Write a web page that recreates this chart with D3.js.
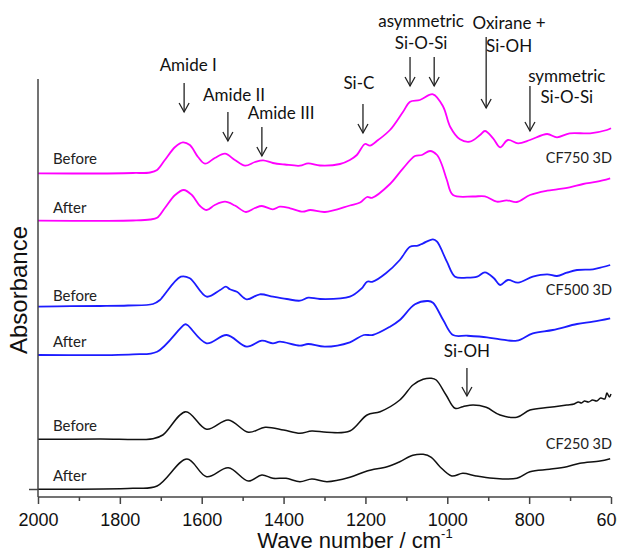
<!DOCTYPE html>
<html lang="en">
<head>
<meta charset="utf-8">
<title>FTIR spectra</title>
<script src="https://cdn.jsdelivr.net/npm/d3@7"></script>
<style>
  body { margin: 0; background: #fff; }
  svg { display: block; }
</style>
</head>
<body>
<div id="vis"></div>
<script>
// wavenumber (cm-1) / absorbance (offset, arb. units) pairs
const cf750Before = [[2000,3.237],[1848,3.235],[1768,3.24],[1726,3.245],[1709,3.27],[1690,3.37],[1665,3.50],[1646,3.547],[1629,3.52],[1609,3.40],[1592,3.333],[1568,3.39],[1543,3.433],[1519,3.37],[1494,3.313],[1470,3.35],[1450,3.367],[1426,3.34],[1397,3.325],[1360,3.313],[1340,3.337],[1311,3.315],[1262,3.33],[1238,3.37],[1221,3.42],[1201,3.53],[1189,3.513],[1169,3.57],[1140,3.67],[1108,3.853],[1091,3.953],[1067,3.97],[1035,4.027],[1010,3.903],[993,3.703],[969,3.577],[945,3.553],[920,3.62],[908,3.66],[888,3.587],[871,3.497],[852,3.57],[827,3.537],[798,3.57],[756,3.63],[732,3.597],[701,3.637],[651,3.637],[610,3.67],[600,3.687]];
const cf750After = [[2000,2.763],[1848,2.762],[1768,2.765],[1726,2.775],[1709,2.793],[1690,2.89],[1665,3.02],[1644,3.07],[1624,3.02],[1604,2.91],[1588,2.87],[1568,2.92],[1543,2.953],[1519,2.915],[1492,2.85],[1470,2.89],[1453,2.91],[1426,2.877],[1409,2.903],[1384,2.887],[1353,2.853],[1335,2.87],[1299,2.85],[1238,2.915],[1213,2.945],[1196,3.0],[1184,2.992],[1140,3.13],[1108,3.287],[1079,3.41],[1062,3.42],[1042,3.46],[1025,3.42],[1013,3.32],[1001,3.17],[986,3.02],[937,3.005],[908,3.007],[879,2.953],[855,2.967],[830,2.95],[798,3.02],[756,3.063],[732,3.077],[701,3.097],[668,3.13],[634,3.153],[602,3.187]];
const cf500Before = [[2000,1.903],[1920,1.908],[1848,1.91],[1780,1.915],[1719,1.93],[1702,1.97],[1695,2.003],[1651,2.203],[1629,2.187],[1588,2.003],[1555,2.07],[1541,2.103],[1531,2.077],[1514,2.053],[1490,1.977],[1458,2.027],[1426,2.003],[1392,1.98],[1360,1.963],[1340,1.993],[1311,1.98],[1238,2.003],[1209,2.087],[1196,2.153],[1182,2.153],[1150,2.237],[1116,2.37],[1091,2.503],[1072,2.513],[1059,2.537],[1035,2.577],[1025,2.553],[1001,2.353],[981,2.203],[952,2.193],[927,2.203],[908,2.247],[886,2.187],[871,2.12],[852,2.17],[827,2.143],[791,2.203],[756,2.227],[732,2.21],[708,2.243],[683,2.27],[644,2.277],[620,2.30],[602,2.32]];
const cf500After = [[2000,1.42],[1768,1.427],[1709,1.453],[1641,1.727],[1635,1.72],[1588,1.537],[1539,1.62],[1490,1.503],[1453,1.563],[1426,1.537],[1409,1.553],[1360,1.513],[1340,1.53],[1299,1.503],[1238,1.547],[1204,1.62],[1182,1.62],[1140,1.703],[1116,1.77],[1079,1.927],[1047,1.96],[1035,1.943],[1010,1.77],[986,1.62],[952,1.613],[903,1.597],[871,1.577],[830,1.563],[791,1.637],[742,1.67],[683,1.73],[644,1.753],[602,1.787]];
const cf250Before = [[2000,0.577],[1850,0.58],[1719,0.583],[1695,0.62],[1639,0.853],[1588,0.677],[1535,0.77],[1486,0.647],[1445,0.697],[1400,0.67],[1360,0.637],[1331,0.66],[1294,0.647],[1238,0.66],[1196,0.82],[1164,0.853],[1116,0.97],[1084,1.12],[1059,1.177],[1039,1.187],[1027,1.17],[1003,1.02],[981,0.887],[962,0.903],[937,0.92],[905,0.897],[871,0.82],[830,0.797],[798,0.87],[750,0.897],[708,0.92],[690,0.93],[680,0.95],[672,0.94],[665,0.96],[655,0.95],[645,0.97],[635,0.96],[625,0.99],[615,0.98],[610,1.04],[604,1.0],[600,1.03]];
const cf250After = [[2000,0.077],[1768,0.087],[1709,0.11],[1636,0.38],[1588,0.203],[1535,0.293],[1486,0.16],[1453,0.22],[1426,0.187],[1394,0.187],[1360,0.153],[1331,0.18],[1294,0.153],[1238,0.197],[1196,0.26],[1147,0.303],[1116,0.353],[1084,0.417],[1059,0.427],[1039,0.397],[1018,0.303],[989,0.21],[962,0.237],[930,0.21],[888,0.187],[830,0.187],[798,0.253],[750,0.277],[708,0.303],[676,0.337],[627,0.36],[602,0.383]];

const spectra = [cf750Before, cf750After, cf500Before, cf500After, cf250Before, cf250After];
const spectraColours = ['#ff00ff', '#ff00ff', '#1c1cff', '#1c1cff', '#111', '#111'];
const stateLabels = ['Before', 'After', 'Before', 'After', 'Before', 'After'];
const stateLabelY = [3.33, 2.84, 1.963, 1.50, 0.66, 0.16];
const sampleLabels = ['CF750 3D', 'CF500 3D', 'CF250 3D'];
const sampleLabelY = [3.34, 2.02, 0.48];

const xTicks = [2000, 1800, 1600, 1400, 1200, 1000, 800, 600];
const xMinorTicks = [1900, 1700, 1500, 1300, 1100, 900, 700];

// band annotations: text lines, text position, arrow (wavenumber, from, to)
const bandText = [
  { lines: ['Amide I'], wn: 1633, y: [4.26] },
  { lines: ['Amide II'], wn: 1521, y: [3.96] },
  { lines: ['Amide III'], wn: 1406, y: [3.78] },
  { lines: ['Si-C'], wn: 1216, y: [4.08] },
  { lines: ['asymmetric', 'Si-O-Si'], wn: 1064, y: [4.70, 4.48] },
  { lines: ['Oxirane +', 'Si-OH'], wn: 849, y: [4.68, 4.45] },
  { lines: ['symmetric', 'Si-O-Si'], wn: 708, y: [4.15, 3.94] },
  { lines: ['Si-OH'], wn: 952, y: [1.40] }
];
const bandArrows = [
  [1643, 4.14, 3.85], [1536, 3.85, 3.56], [1453, 3.70, 3.41], [1206, 3.93, 3.64],
  [1091, 4.40, 4.11], [1032, 4.40, 4.11], [905, 4.60, 3.89], [798, 4.11, 3.66],
  [952, 1.29, 1.01]
];

const width = 617, height = 552;
const x = d3.scaleLinear().domain([2000, 600]).range([38, 611]);
const y = d3.scaleLinear().domain([0, 4.18]).range([497, 79]);

const svg = d3.select('#vis').append('svg')
  .attr('width', width).attr('height', height)
  .style('font-family', '"Liberation Sans", Arial, sans-serif');

const line = d3.line()
  .x(d => x(d[0])).y(d => y(d[1]))
  .curve(d3.curveCatmullRom.alpha(0.5));

svg.selectAll('.spectrum')
  .data(spectra)
  .join('path')
  .attr('class', 'spectrum')
  .attr('d', line)
  .attr('fill', 'none')
  .attr('stroke', (d, i) => spectraColours[i])
  .attr('stroke-width', (d, i) => i < 4 ? 1.8 : 1.5)
  .attr('stroke-linejoin', 'round');

// axes
const xAxis = svg.append('g').attr('transform', `translate(0,${y(0)})`)
  .call(d3.axisBottom(x).tickValues(xTicks).tickSize(7).tickFormat(d3.format('d')));
svg.append('g').attr('transform', `translate(0,${y(0)})`)
  .call(d3.axisBottom(x).tickValues(xMinorTicks).tickSize(4).tickFormat(''))
  .call(g => g.select('.domain').remove());
xAxis.select('.domain').attr('d', `M${x(2000)},0H${x(600)}`);
xAxis.selectAll('text').attr('dy', 0).attr('y', 29).style('font-size', '18px').attr('fill', '#111');

const yAxis = svg.append('g').attr('transform', `translate(${x(2000)},0)`)
  .call(d3.axisLeft(y).tickValues([0.08]).tickSize(9).tickFormat(''));
yAxis.select('.domain').attr('d', `M0,${y(0)}V${y(4.18)}`);

svg.selectAll('.domain, .tick line').attr('stroke', '#444').attr('stroke-width', 1.5);

svg.append('text')
  .attr('x', 355).attr('y', 548)
  .attr('text-anchor', 'middle')
  .style('font-size', '22px').attr('fill', '#111')
  .html('Wave number / cm<tspan dy="-10" font-size="13">-1</tspan>');

svg.append('text')
  .attr('transform', `translate(27,${290}) rotate(-90)`)
  .attr('text-anchor', 'middle')
  .style('font-size', '24px').attr('fill', '#111')
  .text('Absorbance');

// spectrum labels
const labelFont = 'Lato, "Open Sans", sans-serif';
svg.selectAll('.state')
  .data(stateLabels)
  .join('text')
  .attr('class', 'state')
  .attr('x', 53).attr('y', (d, i) => y(stateLabelY[i]))
  .style('font-family', labelFont).style('font-size', '15px').attr('fill', '#222')
  .text(d => d);

svg.selectAll('.sample')
  .data(sampleLabels)
  .join('text')
  .attr('class', 'sample')
  .attr('x', 612).attr('y', (d, i) => y(sampleLabelY[i]))
  .attr('text-anchor', 'end')
  .style('font-family', labelFont).style('font-size', '14.5px').attr('fill', '#222')
  .text(d => d);

// band annotations
const bands = svg.selectAll('.band')
  .data(bandText)
  .join('text')
  .attr('class', 'band')
  .attr('text-anchor', 'middle')
  .style('font-family', labelFont).style('font-size', '17px').attr('fill', '#111');
bands.selectAll('tspan')
  .data(d => d.lines.map((t, i) => ({ t, wn: d.wn, y: d.y[i] })))
  .join('tspan')
  .attr('x', d => x(d.wn)).attr('y', d => y(d.y))
  .text(d => d.t);

const arrows = svg.selectAll('.arrow')
  .data(bandArrows)
  .join('g')
  .attr('class', 'arrow')
  .attr('stroke', '#222').attr('stroke-width', 1.3).attr('fill', 'none');
arrows.append('path')
  .attr('d', d => `M${x(d[0])},${y(d[1])}V${y(d[2])}`);
arrows.append('path')
  .attr('d', d => `M${x(d[0]) - 5},${y(d[2]) - 9}L${x(d[0])},${y(d[2])}L${x(d[0]) + 5},${y(d[2]) - 9}`);
</script>
</body>
</html>
